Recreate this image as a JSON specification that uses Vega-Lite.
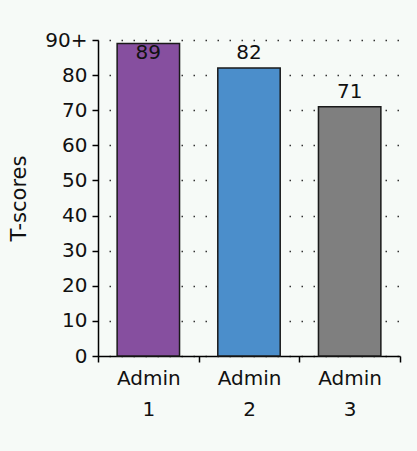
{
  "$schema": "https://vega.github.io/schema/vega-lite/v6.json",
  "autosize": "none",
  "padding": {"left": 98, "top": 40, "right": 17, "bottom": 95},
  "width": 302,
  "height": 316,
  "background": "#f6faf7",
  "config": {
    "view": {"stroke": null},
    "font": "DejaVu Sans",
    "axis": {"labelFont": "DejaVu Sans", "titleFont": "DejaVu Sans"}
  },
  "data": {
    "values": [
      {"admin": "Admin 1", "score": 89, "color": "#864f9f"},
      {"admin": "Admin 2", "score": 82, "color": "#4b8ecb"},
      {"admin": "Admin 3", "score": 71, "color": "#7f7f7f"}
    ]
  },
  "encoding": {
    "x": {
      "field": "admin",
      "type": "nominal",
      "sort": null,
      "scale": {"paddingInner": 0, "paddingOuter": 0},
      "axis": {
        "title": null,
        "labelAngle": 0,
        "labelExpr": "split(datum.label, ' ')",
        "labelFontSize": 20,
        "labelColor": "#111111",
        "labelLineHeight": 31,
        "labelPadding": 6,
        "tickBand": "extent",
        "tickSize": 6,
        "tickColor": "#000000",
        "tickWidth": 1.5,
        "domainColor": "#000000",
        "domainWidth": 1.5,
        "grid": false
      }
    },
    "y": {
      "field": "score",
      "type": "quantitative",
      "scale": {"domain": [0, 90], "nice": false},
      "axis": {
        "title": "T-scores",
        "titleFontSize": 21,
        "titleFontWeight": "normal",
        "titleColor": "#111111",
        "titleX": -73,
        "titleY": 158,
        "titleAngle": -90,
        "titleBaseline": "alphabetic",
        "titleAlign": "center",
        "values": [0, 10, 20, 30, 40, 50, 60, 70, 80, 90],
        "labelExpr": "datum.value == 90 ? '90+' : datum.label",
        "labelFontSize": 20,
        "labelColor": "#111111",
        "labelPadding": 5,
        "tickSize": 6,
        "tickColor": "#000000",
        "tickWidth": 1.5,
        "domainColor": "#000000",
        "domainWidth": 1.5,
        "grid": true,
        "gridColor": "#333333",
        "gridWidth": 1.5,
        "gridDash": [1.5, 10.5],
        "gridDashOffset": 1,
        "gridOpacity": 1
      }
    }
  },
  "layer": [
    {
      "mark": {"type": "bar", "width": {"band": 0.62}, "stroke": "#1a1a1a", "strokeWidth": 1.5},
      "encoding": {
        "color": {"field": "color", "type": "nominal", "scale": null, "legend": null}
      }
    },
    {
      "transform": [{"filter": "datum.score < 88"}],
      "mark": {"type": "text", "fontSize": 20, "baseline": "alphabetic", "dy": -9, "color": "#111111"},
      "encoding": {"text": {"field": "score", "type": "quantitative"}}
    },
    {
      "transform": [{"filter": "datum.score >= 88"}],
      "mark": {"type": "text", "fontSize": 20, "baseline": "alphabetic", "dy": 15, "color": "#111111"},
      "encoding": {"text": {"field": "score", "type": "quantitative"}}
    }
  ]
}
